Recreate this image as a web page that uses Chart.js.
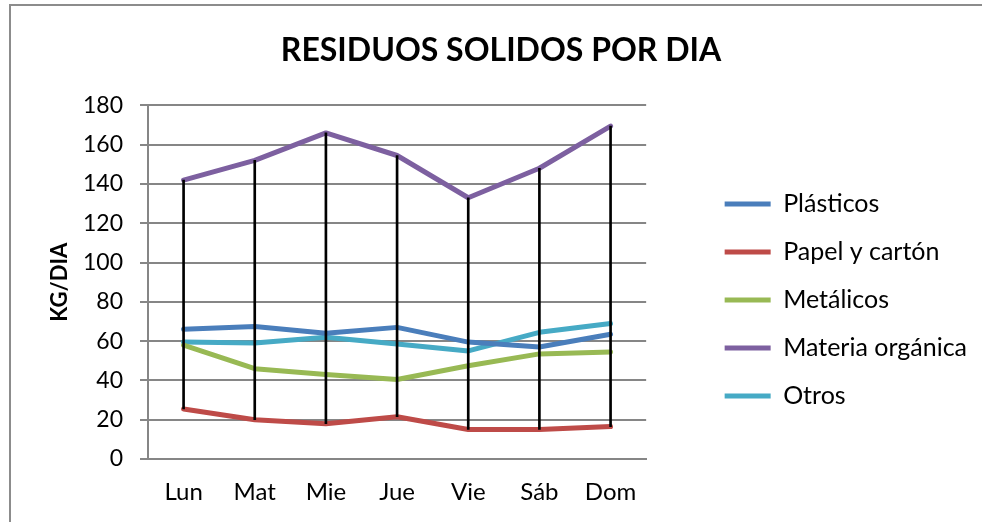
<!DOCTYPE html>
<html><head><meta charset="utf-8">
<script src="https://cdn.jsdelivr.net/npm/chart.js@4.4.0/dist/chart.umd.min.js"></script>
<style>html,body{margin:0;padding:0;background:#fff}#wrap{position:relative;width:982px;height:522px}</style>
</head><body><div id="wrap"><canvas id="c" width="982" height="522"></canvas></div>
<script>
const categories = ['Lun','Mat','Mie','Jue','Vie','Sáb','Dom'];
const plasticos = [66, 67.5, 64, 67, 59.5, 57, 63.5];
const papel = [25.5, 20, 18, 21.5, 15, 15, 16.5];
const metalicos = [58, 46, 43, 40.5, 47.5, 53.5, 54.5];
const organica = [142, 152, 166, 154.5, 133, 148, 169.5];
const otros = [59.5, 59, 62, 58.5, 55, 64.5, 69];
const seriesNames = ['Plásticos','Papel y cartón','Metálicos','Materia orgánica','Otros'];
const yMin = 0, yMax = 180, yStep = 20;

const allSeries = [plasticos, papel, metalicos, organica, otros];
const colors = ['#4A7EBB','#BE4B48','#98B954','#7D60A0','#46AAC5'];
const hiLow = categories.map((_, i) => {
  const v = allSeries.map(s => s[i]);
  return [Math.min(...v), Math.max(...v)];
});

const frame = {
  id: 'frame',
  beforeDraw(chart) {
    const ctx = chart.ctx;
    ctx.save();
    ctx.fillStyle = '#fff';
    ctx.fillRect(0, 0, chart.width, chart.height);
    ctx.strokeStyle = '#8c8c8c';
    ctx.lineWidth = 2;
    ctx.beginPath();
    ctx.moveTo(10, chart.height);
    ctx.lineTo(10, 5);
    ctx.lineTo(chart.width, 5);
    ctx.stroke();
    ctx.restore();
  }
};

const lineSets = allSeries.map((s, i) => ({
  type: 'line',
  label: seriesNames[i],
  data: s,
  borderColor: colors[i],
  backgroundColor: colors[i],
  borderWidth: 5,
  borderCapStyle: 'round',
  borderJoinStyle: 'round',
  pointRadius: 0,
  tension: 0,
  order: 1
}));

new Chart(document.getElementById('c'), {
  type: 'line',
  data: {
    labels: categories,
    datasets: [{
      type: 'bar',
      label: 'hl',
      data: hiLow,
      backgroundColor: '#000',
      barThickness: 2,
      order: 0
    }, ...lineSets]
  },
  options: {
    responsive: false,
    animation: false,
    layout: { padding: { left: 25, top: 4, right: 5, bottom: 16 } },
    plugins: {
      title: {
        display: true,
        text: 'RESIDUOS SOLIDOS POR DIA',
        font: { family: 'Lato', size: 32, weight: 'bold' },
        color: '#000',
        padding: { top: 27, bottom: 36 }
      },
      legend: {
        position: 'right',
        maxWidth: 400,
        title: { display: true, text: ' ', padding: { top: 0, bottom: 54 }, font: { size: 30 } },
        labels: {
          usePointStyle: true,
          pointStyle: 'line',
          pointStyleWidth: 46,
          font: { family: 'Lato', size: 25 },
          color: '#000',
          padding: 23,
          filter: (item) => item.datasetIndex !== 0
        }
      },
      tooltip: { enabled: false }
    },
    scales: {
      x: {
        offset: true,
        grid: { display: false, drawTicks: false },
        border: { color: '#868686', width: 2 },
        ticks: { font: { family: 'Lato', size: 24 }, color: '#000', padding: 19 },
        afterFit(s) { s.height = 47; }
      },
      y: {
        min: yMin, max: yMax,
        ticks: { stepSize: yStep, font: { family: 'Lato', size: 23 }, color: '#000', padding: 17 },
        grid: { color: '#868686', lineWidth: 2, tickLength: 8 },
        border: { color: '#868686', width: 2 },
        title: {
          display: true, text: 'KG/DIA',
          font: { family: 'Lato', size: 22, weight: 'bold' }, color: '#000',
          padding: { top: 22, bottom: 0 }
        },
        afterFit(s) { s.width = 123; }
      },
      yR: {
        position: 'right',
        display: true,
        grid: { display: false },
        border: { display: false },
        ticks: { display: false },
        afterFit(s) { s.width = 55.5; }
      }
    }
  },
  plugins: [frame]
});
</script>
</body></html>
